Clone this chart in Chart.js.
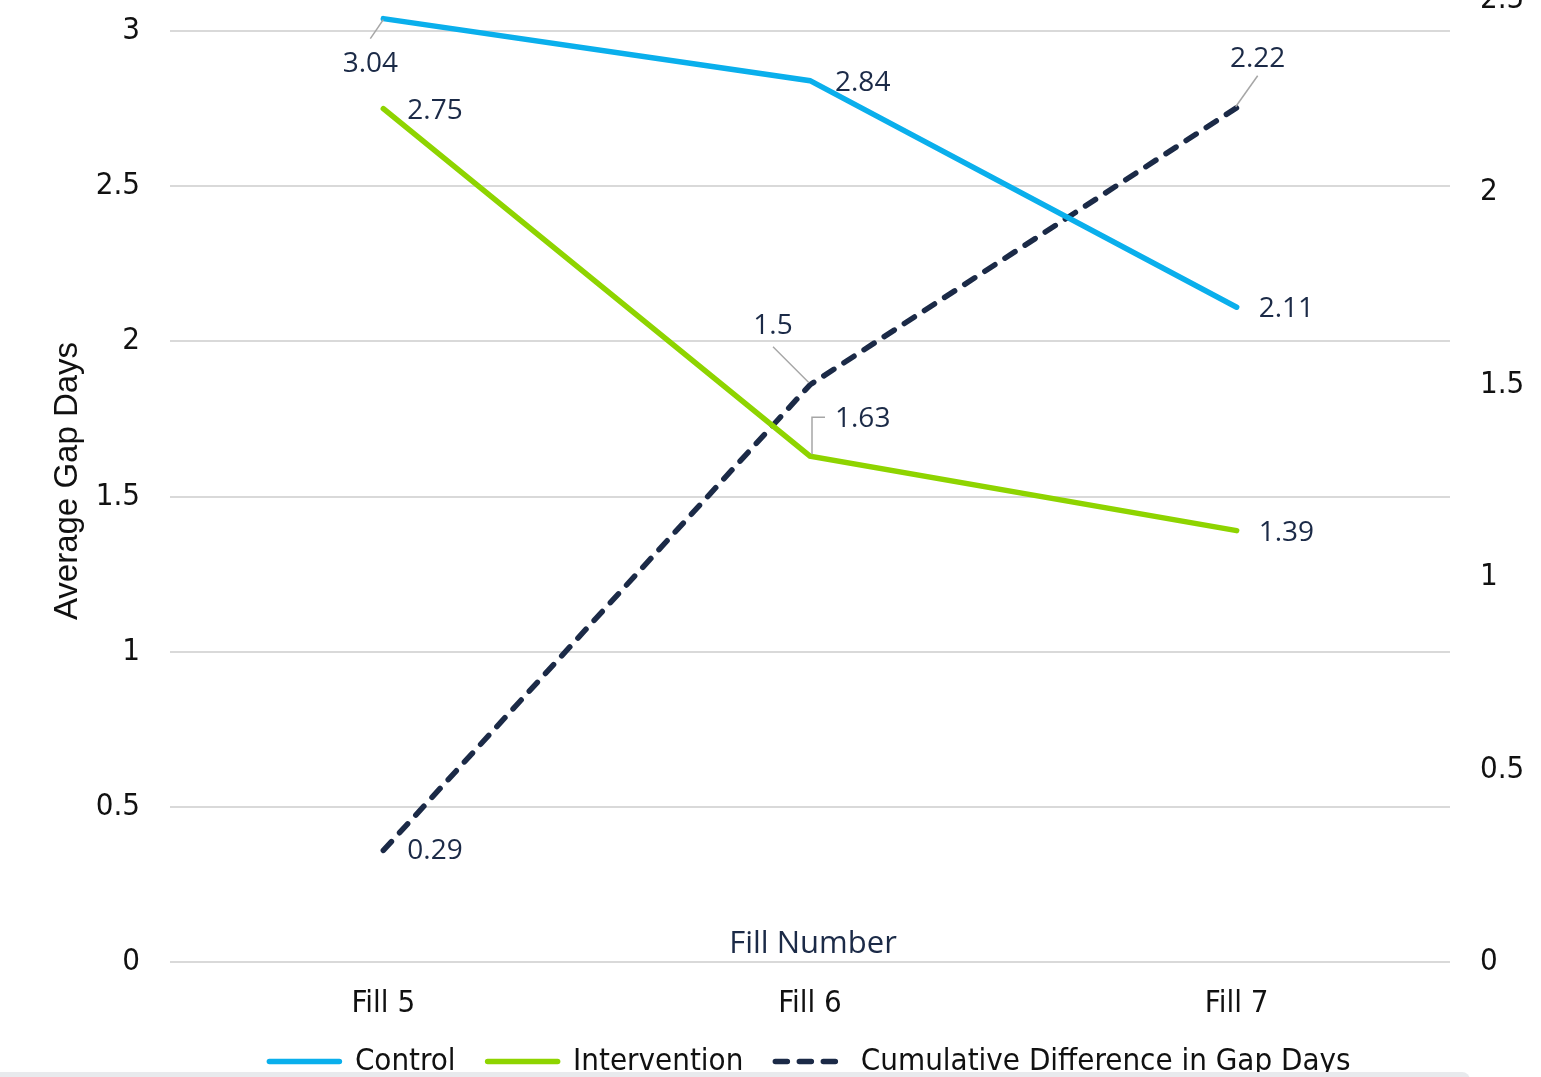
<!DOCTYPE html>
<html>
<head>
<meta charset="utf-8">
<title>Average Gap Days by Fill Number</title>
<script src="https://cdn.jsdelivr.net/npm/chart.js@4.4.1/dist/chart.umd.min.js"></script>
<style>
  html, body { margin: 0; padding: 0; background: #ffffff; }
  #frame { position: relative; width: 1541px; height: 1077px; overflow: hidden; background: #ffffff; }
  #chart { position: absolute; left: 0; top: -40px; }
  #footerBand { position: absolute; left: 0; top: 1072px; width: 1470px; height: 12px;
                background: #e8eaed; border-top-right-radius: 8px; }
</style>
</head>
<body>
<div id="frame">
  <canvas id="chart" width="1541" height="1127"></canvas>
  <div id="footerBand"></div>
</div>
<script>
// Categories and series
const categories = ['Fill 5', 'Fill 6', 'Fill 7'];
const controlValues = [3.04, 2.84, 2.11];
const interventionValues = [2.75, 1.63, 1.39];
const cumulativeValues = [0.29, 1.5, 2.22];

// Tick values for the two value axes
const leftTicks = [0, 0.5, 1, 1.5, 2, 2.5, 3];
const rightTicks = [0, 0.5, 1, 1.5, 2, 2.5];

const NAVY = '#1b2a47';
const LINE_WIDTH = 5.5;
const TICK_FONT = { family: '"DejaVu Sans Condensed", "DejaVu Sans", sans-serif', size: 31 };
const LABEL_FONT = '28px "Open Sans", "Noto Sans", sans-serif';
const CAPTION_FONT = '31px "Open Sans", "Noto Sans", sans-serif';

// Placement of each value label relative to its point: [dx, dy, textAlign]
const labelPlacement = [
  [[-13, 45, 'center'], [25, 2, 'left'], [22, 2, 'left']],
  [[24, 2, 'left'], [25, -37, 'left'], [22, 2, 'left']],
  [[24, 1, 'left'], [-37, -59, 'center'], [21, -49, 'center']]
];
// Leader lines from label to point, as offsets from the point
const leaderLines = [
  [[[0, 1], [-13, 20]], null, null],
  [null, [[2, -2], [2, -39], [15, -39]], null],
  [null, [[-1, -2], [-37, -38]], [[-1, -1], [21, -32]]]
];

const valueLabels = {
  id: 'valueLabels',
  afterDatasetsDraw(chart) {
    const ctx = chart.ctx;
    ctx.save();
    chart.data.datasets.forEach((ds, di) => {
      const meta = chart.getDatasetMeta(di);
      meta.data.forEach((pt, i) => {
        const lines = leaderLines[di][i];
        if (lines) {
          ctx.beginPath();
          ctx.strokeStyle = '#a6a6a6';
          ctx.lineWidth = 1.5;
          ctx.setLineDash([]);
          lines.forEach((o, k) => {
            if (k === 0) ctx.moveTo(pt.x + o[0], pt.y + o[1]);
            else ctx.lineTo(pt.x + o[0], pt.y + o[1]);
          });
          ctx.stroke();
        }
        const [dx, dy, align] = labelPlacement[di][i];
        ctx.font = LABEL_FONT;
        ctx.fillStyle = NAVY;
        ctx.textAlign = align;
        ctx.textBaseline = 'middle';
        ctx.fillText(String(ds.data[i]), pt.x + dx, pt.y + dy);
      });
    });
    ctx.restore();
  }
};

// Category axis caption, drawn just above the baseline inside the plot
const axisCaption = {
  id: 'axisCaption',
  afterDraw(chart) {
    const { ctx, chartArea } = chart;
    ctx.save();
    ctx.font = CAPTION_FONT;
    ctx.fillStyle = NAVY;
    ctx.textAlign = 'center';
    ctx.textBaseline = 'middle';
    ctx.fillText('Fill Number', (chartArea.left + chartArea.right) / 2 + 3, chartArea.bottom - 18);
    ctx.restore();
  }
};

const plainNumber = v => String(v);

// Legend samples carry each series' own stroke, dash pattern included
function legendItems(chart) {
  const items = Chart.defaults.plugins.legend.labels.generateLabels(chart);
  items.forEach(it => {
    const ds = chart.data.datasets[it.datasetIndex];
    it.strokeStyle = ds.borderColor;
    it.fillStyle = ds.borderColor;
    it.lineWidth = LINE_WIDTH;
    it.lineDash = ds.borderDash || [];
    it.lineCap = 'round';
    it.pointStyle = 'line';
  });
  return items;
}

new Chart(document.getElementById('chart'), {
  type: 'line',
  data: {
    labels: categories,
    datasets: [
      {
        label: 'Control', data: controlValues, yAxisID: 'y',
        borderColor: '#0aafec', backgroundColor: '#0aafec', borderWidth: LINE_WIDTH,
        borderCapStyle: 'round', pointRadius: 0, pointHoverRadius: 0, tension: 0
      },
      {
        label: 'Intervention', data: interventionValues, yAxisID: 'y',
        borderColor: '#8ed400', backgroundColor: '#8ed400', borderWidth: LINE_WIDTH,
        borderCapStyle: 'round', pointRadius: 0, pointHoverRadius: 0, tension: 0
      },
      {
        label: 'Cumulative Difference in Gap Days', data: cumulativeValues, yAxisID: 'y1',
        borderColor: NAVY, backgroundColor: NAVY, borderWidth: LINE_WIDTH, borderDash: [12, 12],
        borderCapStyle: 'round', pointRadius: 0, pointHoverRadius: 0, tension: 0
      }
    ]
  },
  options: {
    responsive: false,
    animation: false,
    devicePixelRatio: 1,
    layout: { padding: { top: 40, bottom: 0, left: 0, right: 0 } },
    plugins: {
      tooltip: { enabled: false },
      legend: {
        position: 'bottom',
        fullSize: false,
        labels: {
          usePointStyle: true,
          pointStyle: 'line',
          pointStyleWidth: 70,
          padding: 32,
          color: '#111111',
          font: TICK_FONT,
          generateLabels: legendItems
        }
      }
    },
    scales: {
      x: {
        offset: true,
        grid: { display: false, drawTicks: false },
        border: { display: false },
        ticks: { color: '#111111', font: TICK_FONT, padding: 23, maxRotation: 0 },
        afterFit(s) { s.height = 52; s.paddingLeft = 0; s.paddingRight = 0; }
      },
      y: {
        position: 'left',
        min: 0, max: 3.1,
        afterBuildTicks(s) { s.ticks = leftTicks.map(v => ({ value: v })); },
        grid: { color: '#d9d9d9', lineWidth: 2, drawTicks: false },
        border: { display: false },
        ticks: { color: '#111111', font: TICK_FONT, padding: 30, callback: plainNumber },
        title: {
          display: true, text: 'Average Gap Days', color: '#111111',
          font: { family: '"Liberation Sans", Arial, sans-serif', size: 33 },
          padding: { top: 48, bottom: 0 }
        },
        afterFit(s) { s.width = 170; s.paddingTop = 0; s.paddingBottom = 0; }
      },
      y1: {
        position: 'right',
        min: 0, max: 2.5,
        afterBuildTicks(s) { s.ticks = rightTicks.map(v => ({ value: v })); },
        grid: { drawOnChartArea: false, drawTicks: false },
        border: { display: false },
        ticks: { color: '#111111', font: TICK_FONT, padding: 30, callback: plainNumber },
        afterFit(s) { s.width = 91; s.paddingTop = 0; s.paddingBottom = 0; }
      }
    }
  },
  plugins: [valueLabels, axisCaption]
});
</script>
</body>
</html>
